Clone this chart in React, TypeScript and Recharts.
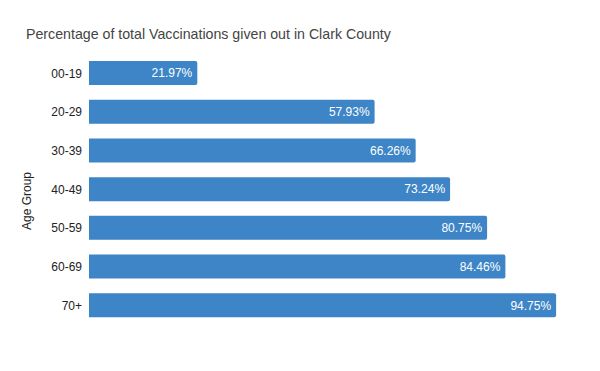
import React from 'react';
import { BarChart, Bar, XAxis, YAxis, LabelList } from 'recharts';

const ageGroups = ['00-19', '20-29', '30-39', '40-49', '50-59', '60-69', '70+'];
const percentages = [21.97, 57.93, 66.26, 73.24, 80.75, 84.46, 94.75];

const data = ageGroups.map((g, i) => ({ group: g, value: percentages[i] }));

const FONT = '"Liberation Sans", Arial, sans-serif';

export default function App() {
  return (
    <div style={{ position: 'absolute', left: 0, top: 0, width: 600, height: 371, background: '#fff', fontFamily: FONT }}>
      <div
        style={{
          position: 'absolute',
          left: 26,
          top: 24,
          fontSize: 14.2,
          color: '#444',
          fontFamily: FONT,
          lineHeight: '20px',
          whiteSpace: 'nowrap',
        }}
      >
        Percentage of total Vaccinations given out in Clark County
      </div>
      <BarChart
        width={600}
        height={371}
        data={data}
        layout="vertical"
        margin={{ top: 54, right: 18, bottom: 46, left: 0 }}
        barSize={24}
      >
        <XAxis type="number" domain={[0, 100]} hide />
        <YAxis
          type="category"
          dataKey="group"
          width={89}
          axisLine={false}
          tickLine={false}
          tickSize={0}
          tickMargin={7}
          tick={{ fontSize: 12, fill: '#222', fontFamily: FONT }}
          label={{
            content: () => (
              <text
                x={31}
                y={201}
                transform="rotate(-90 31 201)"
                textAnchor="middle"
                fontSize={12}
                fill="#222"
                fontFamily={FONT}
              >
                Age Group
              </text>
            ),
          }}
        />
        <Bar dataKey="value" fill="#3d85c6" radius={[0, 2, 2, 0]} isAnimationActive={false}>
          <LabelList
            dataKey="value"
            position="insideRight"
            offset={5}
            formatter={(v: any) => `${Number(v).toFixed(2)}%`}
            style={{ fill: '#fff', fontSize: 12, fontFamily: FONT }}
          />
        </Bar>
      </BarChart>
    </div>
  );
}
